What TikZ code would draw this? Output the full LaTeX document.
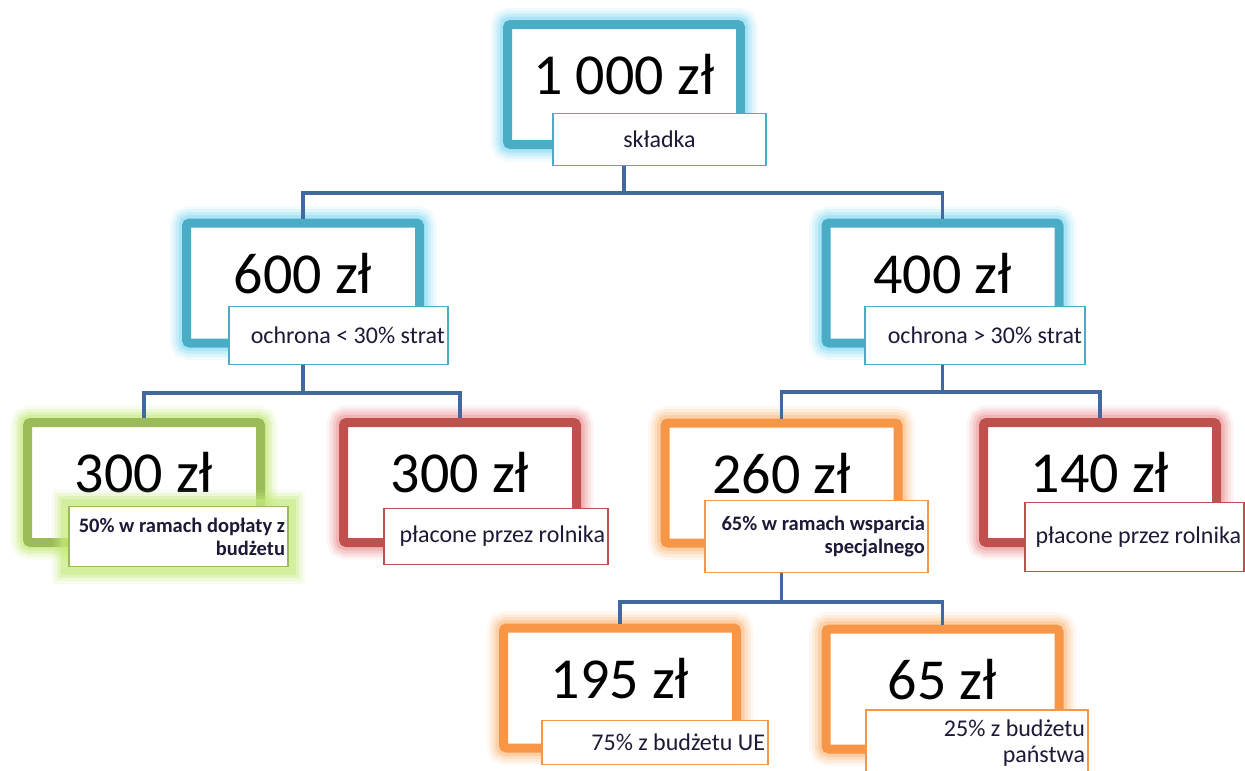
\documentclass[tikz,border=0pt]{standalone}
\usepackage{fontspec}
\setmainfont{Carlito}
\usepackage{xcolor}

\definecolor{aqua}{HTML}{4BACC6}
\definecolor{aquaglow}{HTML}{8FDDF5}
\definecolor{leaf}{HTML}{9BBB59}
\definecolor{leafglow}{HTML}{C6EA7E}
\definecolor{brick}{HTML}{C0504D}
\definecolor{brickglow}{HTML}{EE9C9C}
\definecolor{tang}{HTML}{F79646}
\definecolor{tangglow}{HTML}{FBC08A}
\definecolor{linkblue}{HTML}{41689F}
\definecolor{ink}{HTML}{1C1A36}

\tikzset{
  glow/.style={preaction={draw=#1, line width=34pt, opacity=.12},
               preaction={draw=#1, line width=28pt, opacity=.2},
               preaction={draw=#1, line width=22pt, opacity=.3},
               preaction={draw=#1, line width=16pt, opacity=.5}},
  frame/.style={draw=#1, line width=9pt, fill=white, rounded corners=3pt,
                minimum width=233pt, minimum height=120pt, inner sep=0pt,
                text depth=20pt, font=\fontsize{58}{60}\selectfont},
  tag/.style={draw=#1, line width=1.6pt, fill=white, inner xsep=3pt,
              inner ysep=0pt, text=ink, align=flush right,
              font=\fontsize{24}{26}\selectfont},
  boldtag/.style={font=\fontsize{20.5}{23}\selectfont\bfseries},
  link/.style={draw=linkblue, line width=3.5pt},
}

\begin{document}
\begin{tikzpicture}[x=1pt, y=-1pt]
\useasboundingbox (0,0) rectangle (1245,771);
\clip (0,0) rectangle (1245,771);

% Junctions
\coordinate (j1) at (624,193);
\coordinate (j2) at (303,393);
\coordinate (j3) at (942.5,392);
\coordinate (j4) at (781.5,602);

% Amounts
\node[frame=aqua, glow=aquaglow] (f1000) at (624,84.5) {1 000 zł};
\node[frame=aqua, glow=aquaglow] (f600) at (303,283) {600 zł};
\node[frame=aqua, glow=aquaglow] (f400) at (942.5,283) {400 zł};
\node[frame=leaf, glow=leafglow] (f300a) at (144,482.5) {300 zł};
\node[frame=brick, glow=brickglow] (f300b) at (460,482.5) {300 zł};
\node[frame=tang, glow=tangglow] (f260) at (781.5,483) {260 zł};
\node[frame=brick, glow=brickglow] (f140) at (1100,482.5) {140 zł};
\node[frame=tang, glow=tangglow] (f195) at (620,688) {195 zł};
\node[frame=tang, glow=tangglow] (f65) at (942.5,689) {65 zł};

% Connectors
\draw[link] (f1000.center |- 0,166) -- (j1) -| (f600.north);
\draw[link] (j1) -| (f400.north);
\draw[link] (f600.center |- 0,365) -- (j2) -| (f300a.north);
\draw[link] (j2) -| (f300b.north);
\draw[link] (f400.center |- 0,365) -- (j3) -| (f260.north);
\draw[link] (j3) -| (f140.north);
\draw[link] (f260.center |- 0,573) -- (j4) -| (f195.north);
\draw[link] (j4) -| (f65.north);

% Captions
\node[tag=aqua, text width=207pt, align=center, minimum height=52pt] (l1000) at (659.5,139.5) {składka};
\node[tag=aqua, text width=213pt, minimum height=58pt] (l600) at (338.5,335.5) {ochrona < 30\% strat};
\node[tag=aqua, text width=214pt, minimum height=58pt] (l400) at (975,335.5) {ochrona > 30\% strat};
\node[tag=leaf, glow=leafglow, boldtag, text width=213pt, minimum height=60pt] (l300a) at (178.5,536.5) {50\% w ramach dopłaty z\\budżetu};
\node[tag=brick, text width=218pt, minimum height=56pt] (l300b) at (496,536.5) {płacone przez rolnika};
\node[tag=tang, boldtag, text width=217pt, minimum height=72pt] (l260) at (816.5,536.5) {65\% w ramach wsparcia\\specjalnego};
\node[tag=brick, text width=213pt, minimum height=69pt] (l140) at (1134.5,537) {płacone przez rolnika};
\node[tag=tang, text width=220pt, minimum height=44pt] (l195) at (655,742.5) {75\% z budżetu UE};
\node[tag=tang, text width=216pt, minimum height=66pt] (l65) at (977,743) {25\% z budżetu\\państwa};
\end{tikzpicture}
\end{document}
